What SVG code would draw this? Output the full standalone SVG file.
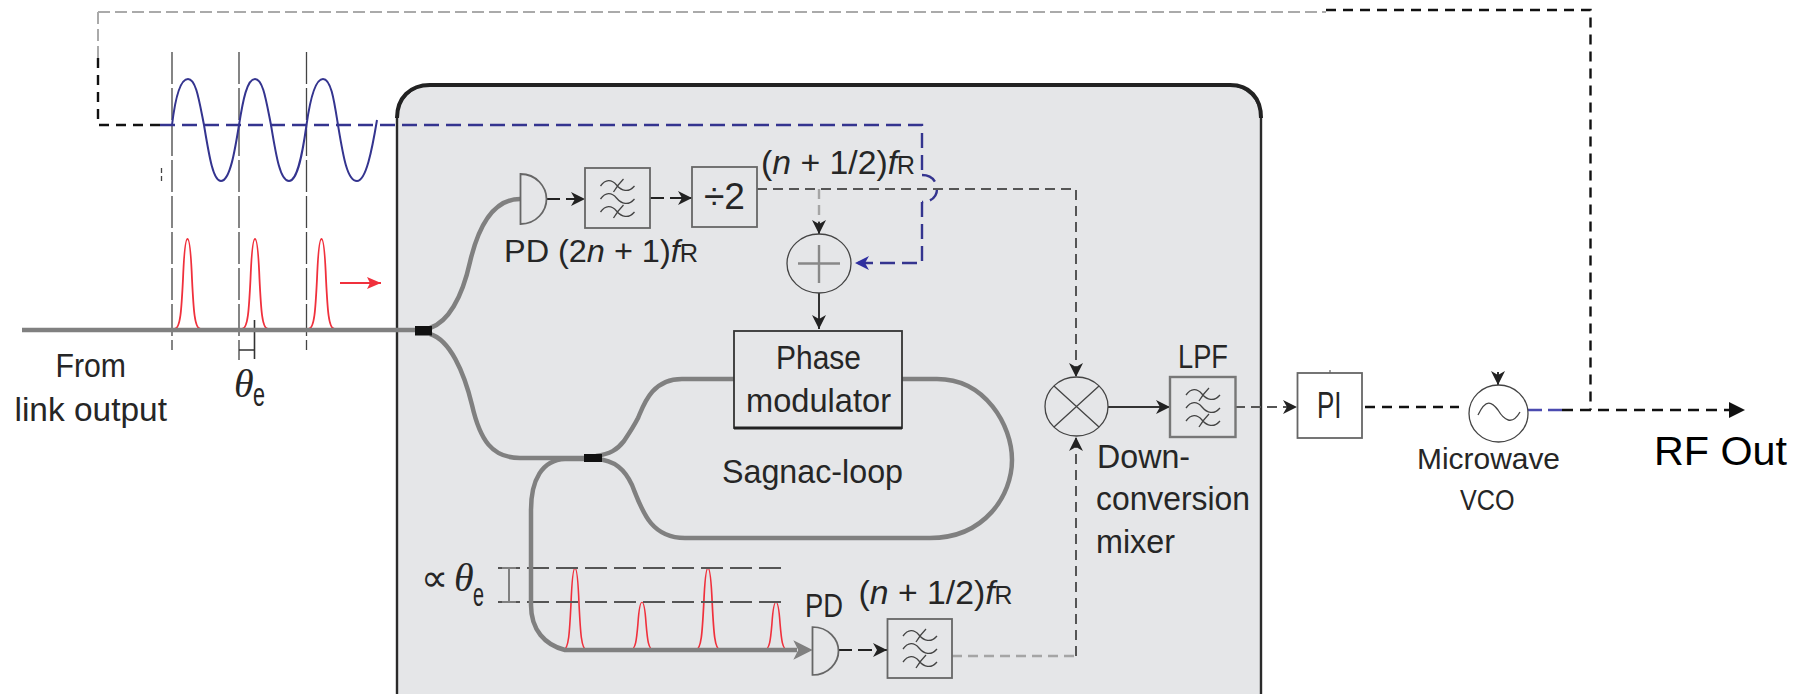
<svg xmlns="http://www.w3.org/2000/svg" width="1793" height="694" viewBox="0 0 1793 694">
<style>
text{font-family:"Liberation Sans",Arial,sans-serif;fill:#262626;font-size:34px}
.i{font-style:italic}
.s{font-size:25px}
.th{font-family:"Liberation Serif",serif;font-style:italic;font-size:40px}
.sub{font-size:34px}
.fiber{fill:none;stroke:#808080;stroke-width:4.500}
.box{fill:none;stroke:#666;stroke-width:1.800}
.sym{fill:none;stroke:#444;stroke-width:1.300}
.guide{fill:none;stroke:#444;stroke-width:1.300;stroke-dasharray:32 4}
.red{fill:none;stroke:#f0303c;stroke-width:1.800}
.blue{fill:none;stroke:#34348f;stroke-width:2.400;stroke-dasharray:15 7}
.sig{fill:none;stroke:#555;stroke-width:2;stroke-dasharray:10 6}
.lgray{fill:none;stroke:#a5a5a5;stroke-width:2.400;stroke-dasharray:10 6}
.blk{fill:none;stroke:#111;stroke-width:2.400;stroke-dasharray:10 7}
.solid{fill:none;stroke:#333;stroke-width:2}
.drv{stroke:#222;stroke-dasharray:14 6}
</style>
<defs>
<marker id="ah" markerUnits="userSpaceOnUse" markerWidth="16" markerHeight="14" refX="14" refY="7" orient="auto"><path d="M0 0L14 7L0 14L4 7Z" fill="#222"/></marker>
<marker id="ab" markerUnits="userSpaceOnUse" markerWidth="16" markerHeight="14" refX="14" refY="7" orient="auto"><path d="M0 0L14 7L0 14L4 7Z" fill="#2f2fa0"/></marker>
<marker id="ar" markerUnits="userSpaceOnUse" markerWidth="16" markerHeight="14" refX="14" refY="7" orient="auto"><path d="M0 1L14 7L0 13L3 7Z" fill="#f0303c"/></marker>
<path id="pulse" class="red" d="M-13 0C-7 0-6-20-4.500-50C-3.500-75-2-90 0-90C2-90 3.500-75 4.500-50C6-20 7 0 13 0"/>
<g id="flt" class="sym">
<path d="M-17-12C-12-19-6-19-1-13C4-7 11-5 17-12M6-19C2-15-1-11-4-6"/>
<path d="M-17 1C-12-6-6-6-1 0C4 6 11 8 17 1"/>
<path d="M-17 14C-12 7-6 7-1 13C4 19 11 21 17 14M6 7C2 11-1 15-4 20"/>
</g>
<path id="pd" d="M0-25C16-25 26-12 26 0C26 12 16 25 0 25Z" class="box"/>
</defs>

<rect id="enclosure" x="397" y="85" width="864" height="640" rx="32" fill="#e5e6e8" stroke="#2a2a2a" stroke-width="2.400"/>
<path d="M397 118C397 98 410 85 430 85H1230C1250 85 1261 98 1261 118" fill="none" stroke="#222" stroke-width="4"/>

<g id="waveforms">
<path class="guide" d="M172 52V350"/>
<path class="guide" d="M239 52V360"/>
<path class="guide" d="M306.500 52V350"/>
<path d="M161.500 168V183" fill="none" stroke="#444" stroke-width="1.300" stroke-dasharray="5 3"/>
<path d="M172 125C175 100 180 79 188 79C196 79 199 100 204 125C209 155 213 181 221 181C230 181 235 150 239 125C243 100 247 79 255 79C263 79 266 100 271 125C276 155 280 181 289 181C298 181 303 150 306.500 125C310 100 315 79 323 79C331 79 334 100 338 125C343 155 347 181 357 181C366 181 372 150 377 120" fill="none" stroke="#34348f" stroke-width="2"/>
<use href="#pulse" transform="translate(187.500 329)"/>
<use href="#pulse" transform="translate(255 329)"/>
<use href="#pulse" transform="translate(321.500 329)"/>
<path d="M340 283H381" fill="none" stroke="#f0303c" stroke-width="2" marker-end="url(#ar)"/>
<path d="M239 350H254M254.500 320V359" fill="none" stroke="#333" stroke-width="1.600"/>
<use href="#pulse" transform="translate(575 650) scale(.9 .91)"/>
<use href="#pulse" transform="translate(642 650) scale(.9 .53)"/>
<use href="#pulse" transform="translate(708 650) scale(.95 .91)"/>
<use href="#pulse" transform="translate(776 650) scale(.9 .53)"/>
<path d="M498 568H785M498 602H785" fill="none" stroke="#555" stroke-width="2" stroke-dasharray="22 7"/>
<path d="M502 568H516M509 568V602M502 602H516" fill="none" stroke="#808080" stroke-width="2"/>
</g>

<g id="fibers">
<path class="fiber" d="M22 330H420"/>
<path class="fiber" d="M430 328C448 322 462 298 470 262C478 228 492 199 520 199"/>
<path class="fiber" d="M430 334C450 340 464 372 472 405C480 440 492 458 520 458H590"/>
<path class="fiber" d="M596 456C610 454 617 450 624 441C630 432 634 426 638 418C644 404 652 379 682 379H734"/>
<path class="fiber" d="M596 459C615 460 625 470 632 485C642 510 650 538 685 538H930C985 538 1012 495 1012 460C1012 425 985 379 937 379H902"/>
<path class="fiber" d="M590 459H565C542 460 531 480 531 510V605C531 630 545 645 565 650H797"/>
<path d="M795 642L811 650L795 658L799 650Z" fill="#808080" stroke="#808080" stroke-width="1.500"/>
</g>
<rect id="coupler1" x="415" y="326" width="17" height="9.500" fill="#111"/>
<rect id="coupler2" x="584" y="454" width="18" height="8" fill="#111"/>

<g id="connectors">
<path d="M98 12H1326" fill="none" stroke="#aaa" stroke-width="1.800" stroke-dasharray="12 5"/>
<path d="M98 12V58" fill="none" stroke="#aaa" stroke-width="2" stroke-dasharray="12 5"/>
<path class="blk" d="M1326 10H1590.500V410"/>
<path class="blk" d="M98 58V125H165"/>
<path class="blue" d="M160 125H922V175"/>
<path class="blue" d="M922 175C932 175 937 182 937 189C937 196 932 202 922 202"/>
<path class="blue" d="M922 202V263H855" marker-end="url(#ab)"/>
<path d="M546 199H585" class="sig drv" marker-end="url(#ah)"/>
<path d="M650 198H692" class="sig drv" marker-end="url(#ah)"/>
<path class="sig" d="M757 189H1076V377" marker-end="url(#ah)"/>
<path class="lgray" d="M819 189V222"/>
<path d="M819 222V234" class="solid" marker-end="url(#ah)"/>
<path class="solid" d="M819 293V329" marker-end="url(#ah)"/>
<path class="lgray" d="M952 656H1076"/>
<path class="sig" d="M1076 656V437" marker-end="url(#ah)"/>
<path d="M838 650H887" class="sig drv" marker-end="url(#ah)"/>
<path class="solid" d="M1108 407H1170" marker-end="url(#ah)"/>
<path class="sig" d="M1235 407H1297" marker-end="url(#ah)"/>
<path class="blk" d="M1365 407H1459"/>
<path class="solid" d="M1498 372V385" marker-end="url(#ah)"/>
<path d="M1528 410H1562" fill="none" stroke="#4a4ab0" stroke-width="2.400" stroke-dasharray="14 6"/>
<path d="M1562 410H1730" fill="none" stroke="#111" stroke-width="2.600" stroke-dasharray="11 7"/>
<path d="M1729 402L1745 410L1729 418Z" fill="#111"/>
<path d="M1330 370V373" stroke="#444" stroke-width="1" fill="none"/>
</g>

<g id="pd1"><use href="#pd" transform="translate(520.500 199)"/><text x="504" y="262" textLength="194" lengthAdjust="spacingAndGlyphs" style="font-size:32px">PD (2<tspan class="i">n</tspan> + 1)<tspan class="i">f</tspan><tspan class="s">R</tspan></text></g>
<g id="filter1"><rect class="box" x="585" y="168" width="65" height="60"/><use href="#flt" transform="translate(617.500 198)"/></g>
<g id="divider"><rect class="box" x="692" y="167" width="65" height="60"/><text x="704" y="209" textLength="41" lengthAdjust="spacingAndGlyphs" style="font-size:37px">÷2</text></g>
<g id="label-top"><text x="761" y="174" textLength="154" lengthAdjust="spacingAndGlyphs">(<tspan class="i">n</tspan> + 1/2)<tspan class="i">f</tspan><tspan class="s">R</tspan></text></g>
<g id="adder"><ellipse class="sym" cx="819" cy="263.500" rx="32" ry="29.500"/><path d="M798 263.500H840M819 245V283" fill="none" stroke="#888" stroke-width="2.400"/></g>
<g id="phase-modulator"><rect x="734" y="331" width="168" height="97" fill="#e5e6e8" stroke="#333" stroke-width="1.800"/><path d="M734 428H902" stroke="#222" stroke-width="3"/><text x="776" y="369" textLength="85" lengthAdjust="spacingAndGlyphs">Phase</text><text x="746" y="412" textLength="145" lengthAdjust="spacingAndGlyphs">modulator</text></g>
<g id="sagnac"><text x="722" y="483" textLength="181" lengthAdjust="spacingAndGlyphs">Sagnac-loop</text></g>
<g id="mixer"><ellipse class="sym" cx="1076.500" cy="406.500" rx="31.500" ry="29.500"/><path d="M1054 386L1099 427M1099 386L1054 427" class="sym"/><text x="1097" y="468" textLength="93" lengthAdjust="spacingAndGlyphs">Down-</text><text x="1096" y="510" textLength="154" lengthAdjust="spacingAndGlyphs">conversion</text><text x="1096" y="553" textLength="79" lengthAdjust="spacingAndGlyphs">mixer</text></g>
<g id="lpf"><rect x="1170" y="377" width="65.500" height="60" fill="none" stroke="#777" stroke-width="2.400"/><use href="#flt" transform="translate(1203 407)"/><text x="1178" y="368" textLength="50" lengthAdjust="spacingAndGlyphs">LPF</text></g>
<g id="pi"><rect class="box" x="1297.500" y="373" width="64.500" height="65"/><text x="1317" y="418" textLength="24.500" lengthAdjust="spacingAndGlyphs" style="font-size:37px">PI</text></g>
<g id="vco"><ellipse class="sym" cx="1498.500" cy="413.500" rx="29.500" ry="28.500"/><path d="M1478 415C1486 398 1492 402 1498 410C1504 420 1512 426 1520 412" class="sym"/><text x="1417" y="469" textLength="143" lengthAdjust="spacingAndGlyphs" style="font-size:30px">Microwave</text><text x="1460" y="510" textLength="54.500" lengthAdjust="spacingAndGlyphs" style="font-size:30px">VCO</text></g>
<g id="rf-out"><text x="1654" y="465" textLength="133" lengthAdjust="spacingAndGlyphs" style="font-size:41px;fill:#000">RF Out</text></g>
<g id="pd2"><use href="#pd" transform="translate(812.500 651) scale(1 .96)"/><text x="805" y="617" textLength="38" lengthAdjust="spacingAndGlyphs">PD</text><text x="858.500" y="604" textLength="154" lengthAdjust="spacingAndGlyphs">(<tspan class="i">n</tspan> + 1/2)<tspan class="i">f</tspan><tspan class="s">R</tspan></text></g>
<g id="filter2"><rect class="box" x="887.500" y="619" width="64.500" height="59"/><use href="#flt" transform="translate(920 648)"/></g>
<g id="source-label"><text x="55.500" y="377" textLength="70.500" lengthAdjust="spacingAndGlyphs">From</text><text x="14.500" y="421" textLength="152.500" lengthAdjust="spacingAndGlyphs">link output</text></g>
<g id="theta1"><text class="th" x="234" y="397">θ</text><text class="sub" x="253" y="406" textLength="12" lengthAdjust="spacingAndGlyphs">e</text></g>
<g id="theta2"><text x="421" y="591" style="font-size:38px">∝</text><text class="th" x="454" y="591">θ</text><text class="sub" x="473" y="606" textLength="11" lengthAdjust="spacingAndGlyphs">e</text></g>
</svg>
